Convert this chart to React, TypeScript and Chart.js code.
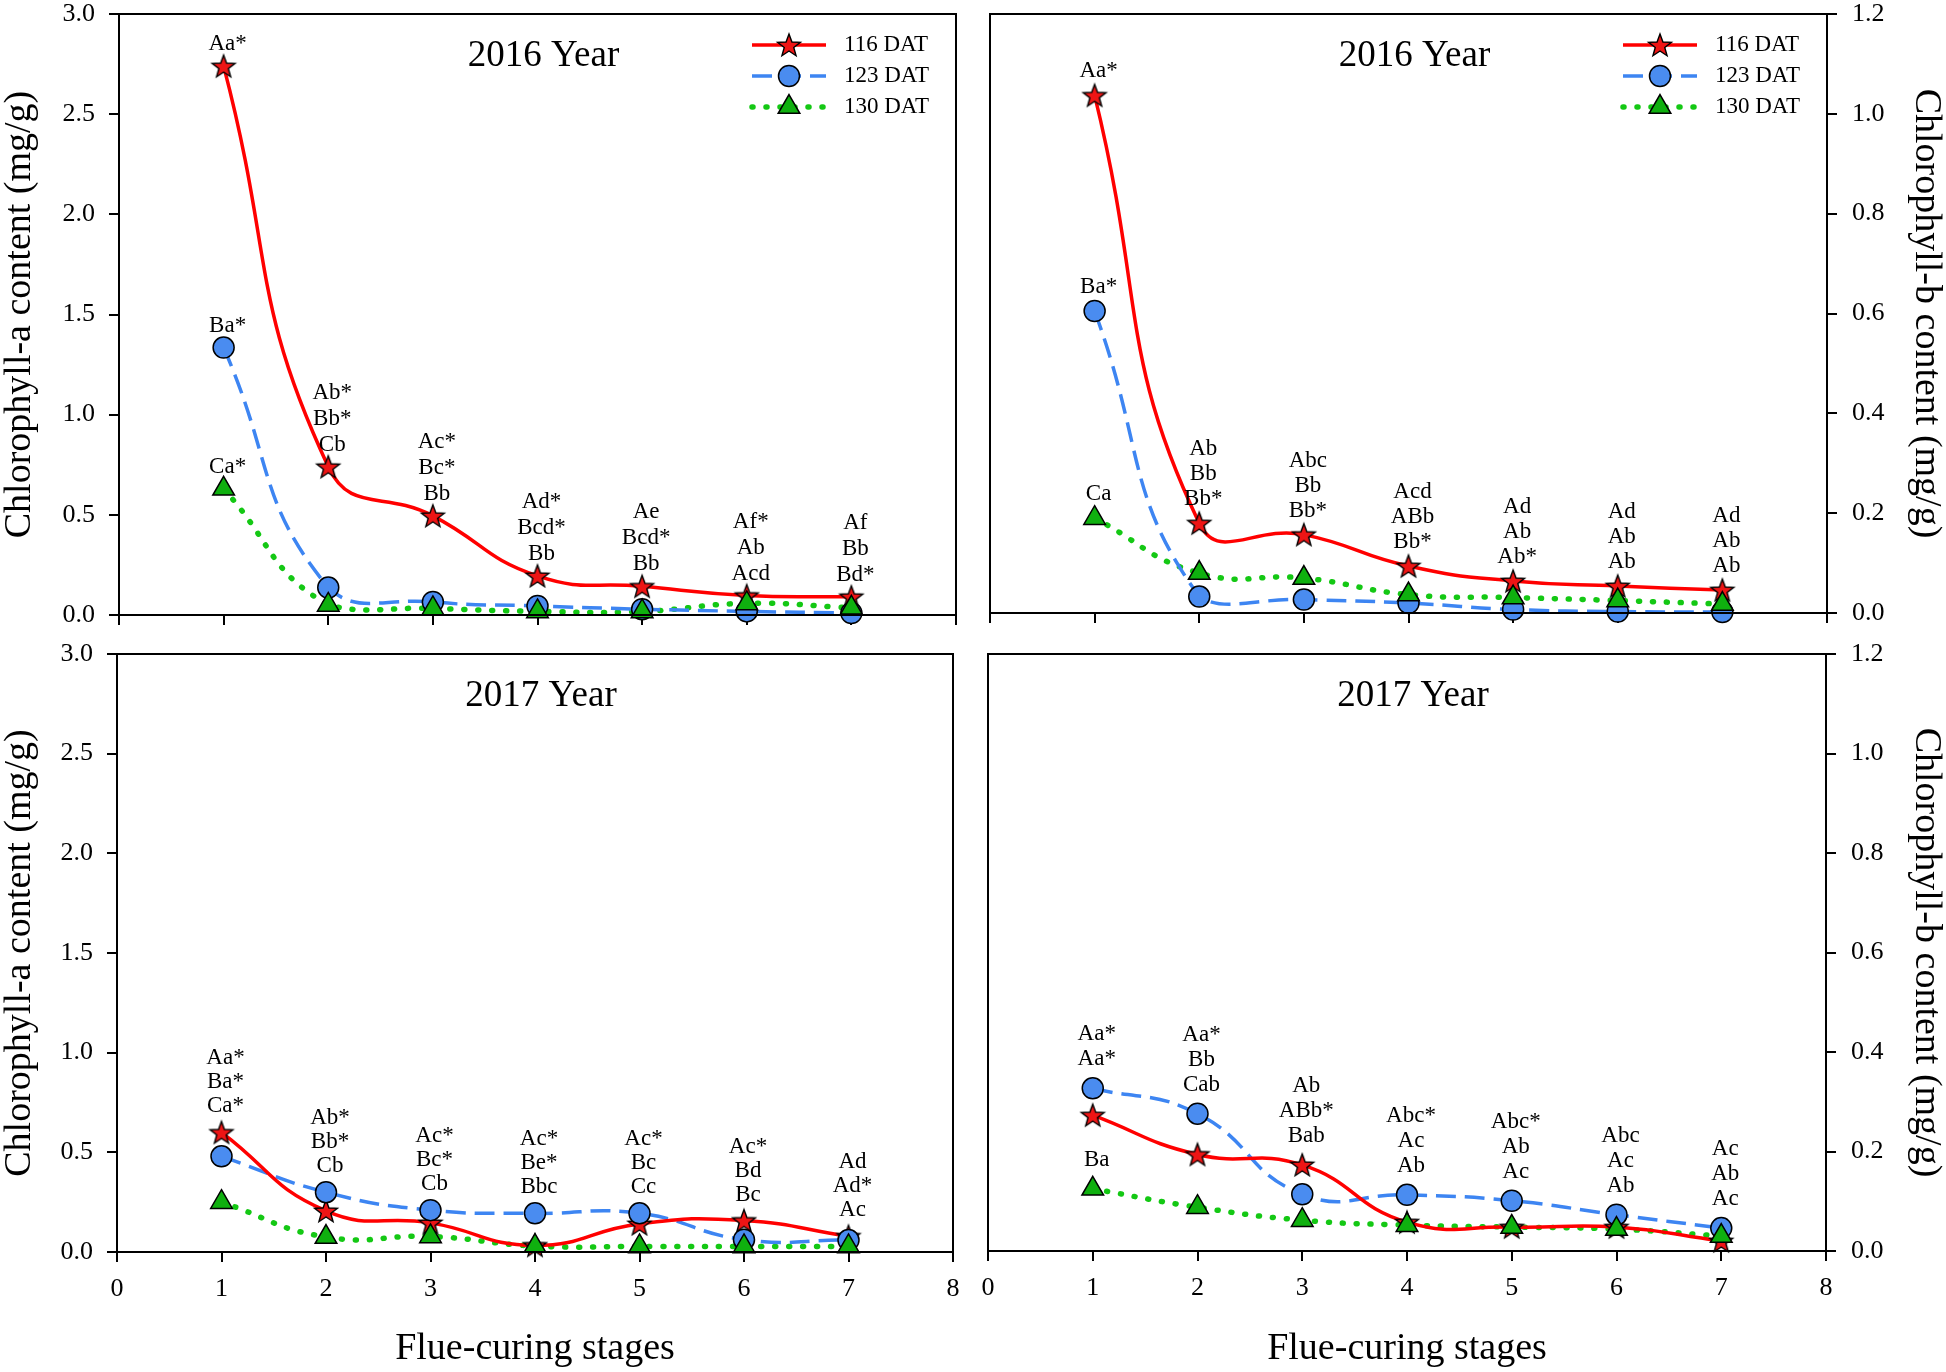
import React, { useEffect, useRef } from 'react';
import { Chart, registerables } from 'chart.js';

Chart.register(...registerables);

const FONT = "'Liberation Serif', 'Times New Roman', 'DejaVu Serif', serif";

// ---------- data ----------
const stages = [1, 2, 3, 4, 5, 6, 7];
const seriesLabels = ['116 DAT', '123 DAT', '130 DAT'];
const xAxisTitle = 'Flue-curing stages';
const yTitleA = 'Chlorophyll-a content (mg/g)';
const yTitleB = 'Chlorophyll-b content (mg/g)';
const title2016 = '2016 Year';
const title2017 = '2017 Year';

// 2016, chlorophyll-a
const chlA2016_116 = [2.74, 0.74, 0.495, 0.195, 0.143, 0.097, 0.091];
const chlA2016_123 = [1.335, 0.137, 0.065, 0.045, 0.029, 0.018, 0.01];
const chlA2016_130 = [0.63, 0.05, 0.033, 0.018, 0.018, 0.058, 0.036];
// 2016, chlorophyll-b
const chlB2016_116 = [1.037, 0.18, 0.157, 0.094, 0.064, 0.054, 0.046];
const chlB2016_123 = [0.605, 0.033, 0.027, 0.02, 0.007, 0.003, 0.002];
const chlB2016_130 = [0.19, 0.08, 0.07, 0.037, 0.031, 0.025, 0.018];
// 2017, chlorophyll-a
const chlA2017_116 = [0.6, 0.206, 0.146, 0.033, 0.141, 0.158, 0.079];
const chlA2017_123 = [0.48, 0.3, 0.21, 0.194, 0.194, 0.062, 0.06];
const chlA2017_130 = [0.25, 0.075, 0.078, 0.03, 0.028, 0.028, 0.028];
// 2017, chlorophyll-b
const chlB2017_116 = [0.273, 0.194, 0.173, 0.058, 0.048, 0.048, 0.02];
const chlB2017_123 = [0.327, 0.276, 0.114, 0.113, 0.101, 0.073, 0.046];
const chlB2017_130 = [0.125, 0.088, 0.062, 0.052, 0.048, 0.044, 0.03];

type Note = { stage: number; on: number; lines: string[] };

const notesA2016: Note[] = [
  { stage: 1, on: 0, lines: ['Aa*'] },
  { stage: 1, on: 1, lines: ['Ba*'] },
  { stage: 1, on: 2, lines: ['Ca*'] },
  { stage: 2, on: 0, lines: ['Ab*', 'Bb*', 'Cb'] },
  { stage: 3, on: 0, lines: ['Ac*', 'Bc*', 'Bb'] },
  { stage: 4, on: 0, lines: ['Ad*', 'Bcd*', 'Bb'] },
  { stage: 5, on: 0, lines: ['Ae', 'Bcd*', 'Bb'] },
  { stage: 6, on: 0, lines: ['Af*', 'Ab', 'Acd'] },
  { stage: 7, on: 0, lines: ['Af', 'Bb', 'Bd*'] },
];
const notesB2016: Note[] = [
  { stage: 1, on: 0, lines: ['Aa*'] },
  { stage: 1, on: 1, lines: ['Ba*'] },
  { stage: 1, on: 2, lines: ['Ca'] },
  { stage: 2, on: 0, lines: ['Ab', 'Bb', 'Bb*'] },
  { stage: 3, on: 0, lines: ['Abc', 'Bb', 'Bb*'] },
  { stage: 4, on: 0, lines: ['Acd', 'ABb', 'Bb*'] },
  { stage: 5, on: 0, lines: ['Ad', 'Ab', 'Ab*'] },
  { stage: 6, on: 0, lines: ['Ad', 'Ab', 'Ab'] },
  { stage: 7, on: 0, lines: ['Ad', 'Ab', 'Ab'] },
];
const notesA2017: Note[] = [
  { stage: 1, on: 0, lines: ['Aa*', 'Ba*', 'Ca*'] },
  { stage: 2, on: 1, lines: ['Ab*', 'Bb*', 'Cb'] },
  { stage: 3, on: 1, lines: ['Ac*', 'Bc*', 'Cb'] },
  { stage: 4, on: 1, lines: ['Ac*', 'Be*', 'Bbc'] },
  { stage: 5, on: 1, lines: ['Ac*', 'Bc', 'Cc'] },
  { stage: 6, on: 0, lines: ['Ac*', 'Bd', 'Bc'] },
  { stage: 7, on: 0, lines: ['Ad', 'Ad*', 'Ac'] },
];
const notesB2017: Note[] = [
  { stage: 1, on: 1, lines: ['Aa*', 'Aa*'] },
  { stage: 1, on: 2, lines: ['Ba'] },
  { stage: 2, on: 1, lines: ['Aa*', 'Bb', 'Cab'] },
  { stage: 3, on: 0, lines: ['Ab', 'ABb*', 'Bab'] },
  { stage: 4, on: 1, lines: ['Abc*', 'Ac', 'Ab'] },
  { stage: 5, on: 1, lines: ['Abc*', 'Ab', 'Ac'] },
  { stage: 6, on: 1, lines: ['Abc', 'Ac', 'Ab'] },
  { stage: 7, on: 1, lines: ['Ac', 'Ab', 'Ac'] },
];

// ---------- styles ----------
const seriesStyles = [
  { color: '#ff0000', fill: '#ee1515', width: 3.5, dash: [] as number[], cap: 'butt' as CanvasLineCap, marker: 'star', radius: 11 },
  { color: '#3d85f2', fill: '#4a8cf0', width: 3.5, dash: [20, 9], cap: 'butt' as CanvasLineCap, marker: 'circle', radius: 10.5 },
  { color: '#14c814', fill: '#0fb00f', width: 5.5, dash: [1, 13], cap: 'round' as CanvasLineCap, marker: 'triangle', radius: 12.5 },
];

let starCache: HTMLCanvasElement | null = null;
function getStar(): HTMLCanvasElement {
  if (starCache) return starCache;
  const size = 28;
  const c = document.createElement('canvas');
  c.width = size;
  c.height = size;
  const ctx = c.getContext('2d')!;
  const R = 12;
  const r = 5;
  ctx.beginPath();
  for (let i = 0; i < 10; i++) {
    const rr = i % 2 === 0 ? R : r;
    const a = -Math.PI / 2 + (i * Math.PI) / 5;
    const x = size / 2 + rr * Math.cos(a);
    const y = size / 2 + 1 + rr * Math.sin(a);
    if (i === 0) ctx.moveTo(x, y);
    else ctx.lineTo(x, y);
  }
  ctx.closePath();
  ctx.fillStyle = seriesStyles[0].fill;
  ctx.fill();
  ctx.lineWidth = 1.4;
  ctx.strokeStyle = '#000';
  ctx.stroke();
  starCache = c;
  return c;
}

function drawMarker(ctx: CanvasRenderingContext2D, i: number, x: number, y: number) {
  const st = seriesStyles[i];
  ctx.save();
  ctx.setLineDash([]);
  if (st.marker === 'star') {
    const s = getStar();
    ctx.drawImage(s, x - s.width / 2, y - s.height / 2);
  } else if (st.marker === 'circle') {
    ctx.beginPath();
    ctx.arc(x, y, st.radius, 0, Math.PI * 2);
    ctx.fillStyle = st.fill;
    ctx.fill();
    ctx.lineWidth = 1.5;
    ctx.strokeStyle = '#000';
    ctx.stroke();
  } else {
    const r = st.radius;
    ctx.beginPath();
    for (let k = 0; k < 3; k++) {
      const a = (k * 2 * Math.PI) / 3;
      const px = x + Math.sin(a) * r;
      const py = y - Math.cos(a) * r;
      if (k === 0) ctx.moveTo(px, py);
      else ctx.lineTo(px, py);
    }
    ctx.closePath();
    ctx.fillStyle = st.fill;
    ctx.fill();
    ctx.lineWidth = 1.5;
    ctx.strokeStyle = '#000';
    ctx.stroke();
  }
  ctx.restore();
}

type PanelCfg = {
  id: string;
  left: number;
  top: number;
  width: number;
  height: number;
  pad: { left: number; top: number; right: number; bottom: number };
  yWidth: number;
  xHeight: number;
  yPos: 'left' | 'right';
  yMax: number;
  yStep: number;
  yTitle: string;
  xLabels: boolean;
  legend: boolean;
  title: string;
  series: number[][];
  notes: Note[];
  noteGap: number;
  noteStep: number;
};

const panels: PanelCfg[] = [
  {
    id: 'tl', left: 0, top: 0, width: 973, height: 640,
    pad: { left: 0, top: 13, right: 17, bottom: 0 }, yWidth: 119, xHeight: 25,
    yPos: 'left', yMax: 3, yStep: 0.5, yTitle: yTitleA, xLabels: false, legend: true,
    title: title2016, series: [chlA2016_116, chlA2016_123, chlA2016_130], notes: notesA2016,
    noteGap: 22, noteStep: 26,
  },
  {
    id: 'tr', left: 973, top: 0, width: 973, height: 640,
    pad: { left: 17, top: 13, right: 0, bottom: 0 }, yWidth: 119, xHeight: 27,
    yPos: 'right', yMax: 1.2, yStep: 0.2, yTitle: yTitleB, xLabels: false, legend: true,
    title: title2016, series: [chlB2016_116, chlB2016_123, chlB2016_130], notes: notesB2016,
    noteGap: 24, noteStep: 25,
  },
  {
    id: 'bl', left: 0, top: 640, width: 973, height: 732,
    pad: { left: 0, top: 9, right: 20, bottom: 0 }, yWidth: 117, xHeight: 120,
    yPos: 'left', yMax: 3, yStep: 0.5, yTitle: yTitleA, xLabels: true, legend: false,
    title: title2017, series: [chlA2017_116, chlA2017_123, chlA2017_130], notes: notesA2017,
    noteGap: 26, noteStep: 24,
  },
  {
    id: 'br', left: 973, top: 640, width: 973, height: 732,
    pad: { left: 15, top: 8, right: 0, bottom: 0 }, yWidth: 120, xHeight: 121,
    yPos: 'right', yMax: 1.2, yStep: 0.2, yTitle: yTitleB, xLabels: true, legend: false,
    title: title2017, series: [chlB2017_116, chlB2017_123, chlB2017_130], notes: notesB2017,
    noteGap: 29, noteStep: 25,
  },
];

function makeDecor(cfg: PanelCfg) {
  return {
    id: 'decor_' + cfg.id,
    afterDatasetsDraw(chart: any) {
      const ctx: CanvasRenderingContext2D = chart.ctx;
      const area = chart.chartArea;
      const xs = chart.scales.x;
      const ys = chart.scales.y;
      ctx.save();
      // panel title
      ctx.fillStyle = '#000';
      ctx.font = `37px ${FONT}`;
      ctx.textAlign = 'center';
      ctx.textBaseline = 'middle';
      ctx.fillText(cfg.title, (area.left + area.right) / 2 + 6, area.top + 42);
      // significance letters
      ctx.font = `23px ${FONT}`;
      cfg.notes.forEach((n) => {
        const v = cfg.series[n.on][n.stage - 1];
        const px = xs.getPixelForValue(n.stage) + 4;
        const base = ys.getPixelForValue(v) - cfg.noteGap;
        const cnt = n.lines.length;
        n.lines.forEach((t, k) => {
          ctx.fillText(t, px, base - (cnt - 1 - k) * cfg.noteStep);
        });
      });
      // legend
      if (cfg.legend) {
        seriesStyles.forEach((st, i) => {
          const y = area.top + 31 + i * 31;
          const x1 = area.right - 204;
          const x2 = area.right - 130;
          ctx.save();
          ctx.strokeStyle = st.color;
          ctx.lineWidth = st.width;
          ctx.setLineDash(st.dash);
          ctx.lineCap = st.cap;
          ctx.beginPath();
          ctx.moveTo(x1, y);
          ctx.lineTo(x2, y);
          ctx.stroke();
          ctx.restore();
          drawMarker(ctx, i, (x1 + x2) / 2, y);
          ctx.fillStyle = '#000';
          ctx.font = `23px ${FONT}`;
          ctx.textAlign = 'left';
          ctx.textBaseline = 'middle';
          ctx.fillText(seriesLabels[i], area.right - 112, y);
        });
      }
      ctx.restore();
    },
    afterDraw(chart: any) {
      const ctx: CanvasRenderingContext2D = chart.ctx;
      const a = chart.chartArea;
      ctx.save();
      ctx.strokeStyle = '#000';
      ctx.lineWidth = 2;
      ctx.strokeRect(a.left, a.top, a.right - a.left, a.bottom - a.top);
      ctx.restore();
    },
  };
}

function Panel({ cfg }: { cfg: PanelCfg }) {
  const ref = useRef<HTMLCanvasElement>(null);
  useEffect(() => {
    const canvas = ref.current;
    if (!canvas) return;
    const star = getStar();
    const lineSets = cfg.series.map((vals, i) => {
      const st = seriesStyles[i];
      return {
        label: seriesLabels[i],
        data: stages.map((s, k) => ({ x: s, y: vals[k] })),
        borderColor: st.color,
        borderWidth: st.width,
        borderDash: st.dash,
        borderCapStyle: st.cap,
        tension: 0.48,
        pointRadius: 0,
        fill: false,
        clip: { left: 10, right: 10, top: 10, bottom: 1 },
        order: 10 + i,
      };
    });
    const markSets = cfg.series.map((vals, i) => {
      const st = seriesStyles[i];
      return {
        label: seriesLabels[i] + ' markers',
        data: stages.map((s, k) => ({ x: s, y: vals[k] })),
        showLine: false,
        pointStyle: st.marker === 'star' ? star : st.marker,
        pointRadius: st.radius,
        pointBackgroundColor: st.fill,
        pointBorderColor: '#000',
        pointBorderWidth: 1.5,
        clip: false,
        order: 2 - i,
      };
    });
    const gridOpts = {
      display: true,
      drawOnChartArea: false,
      drawTicks: true,
      tickLength: 10,
      color: '#000',
      lineWidth: 2,
    };
    const zeroPad = (s: any) => {
      s.paddingTop = 0;
      s.paddingBottom = 0;
      s.paddingLeft = 0;
      s.paddingRight = 0;
    };
    const chart = new Chart(canvas, {
      type: 'line',
      data: { datasets: [...lineSets, ...markSets] as any },
      options: {
        responsive: false,
        animation: false,
        devicePixelRatio: 1,
        events: [],
        layout: { padding: cfg.pad },
        plugins: { legend: { display: false }, tooltip: { enabled: false }, title: { display: false } },
        scales: {
          x: {
            type: 'linear',
            position: 'bottom',
            min: 0,
            max: 8,
            ticks: {
              stepSize: 1,
              display: cfg.xLabels,
              color: '#000',
              font: { family: FONT, size: 26 },
              padding: 12,
              maxRotation: 0,
              callback: (v: any) => String(v),
            },
            grid: gridOpts,
            border: { display: true, color: '#000', width: 2 },
            title: {
              display: cfg.xLabels,
              text: xAxisTitle,
              color: '#000',
              font: { family: FONT, size: 38 },
              padding: { top: 0, bottom: 0 },
            },
            afterFit: (s: any) => {
              s.height = cfg.xHeight;
              zeroPad(s);
            },
          },
          y: {
            type: 'linear',
            position: cfg.yPos,
            min: 0,
            max: cfg.yMax,
            ticks: {
              stepSize: cfg.yStep,
              color: '#000',
              font: { family: FONT, size: 26 },
              padding: cfg.yPos === 'left' ? 14 : 15,
              callback: (v: any) => Number(v).toFixed(1),
            },
            grid: gridOpts,
            border: { display: true, color: '#000', width: 2 },
            title: {
              display: true,
              text: cfg.yTitle,
              color: '#000',
              font: { family: FONT, size: 38 },
              padding: { top: -3, bottom: 0 },
            },
            afterFit: (s: any) => {
              s.width = cfg.yWidth;
              zeroPad(s);
            },
          },
        },
      } as any,
      plugins: [makeDecor(cfg)],
    });
    return () => chart.destroy();
  }, [cfg]);
  return (
    <canvas
      ref={ref}
      width={cfg.width}
      height={cfg.height}
      style={{ position: 'absolute', left: cfg.left, top: cfg.top, width: cfg.width, height: cfg.height }}
    />
  );
}

export default function App() {
  return (
    <div
      style={{
        position: 'absolute',
        left: 0,
        top: 0,
        width: 1946,
        height: 1372,
        overflow: 'hidden',
        background: '#fff',
      }}
    >
      {panels.map((p) => (
        <Panel key={p.id} cfg={p} />
      ))}
    </div>
  );
}
